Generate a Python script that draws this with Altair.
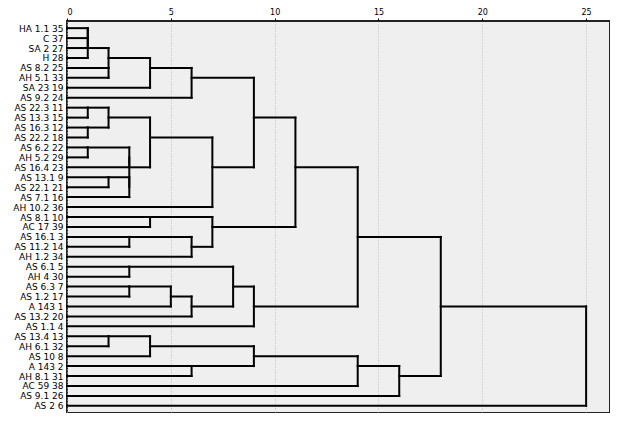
import json
import altair as alt
import pandas as pd

# Leaf labels, top to bottom
labels = ["HA 1.1 35", "C 37", "SA 2 27", "H 28", "AS 8.2 25", "AH 5.1 33", "SA 23 19",
          "AS 9.2 24", "AS 22.3 11", "AS 13.3 15", "AS 16.3 12", "AS 22.2 18", "AS 6.2 22",
          "AH 5.2 29", "AS 16.4 23", "AS 13.1 9", "AS 22.1 21", "AS 7.1 16", "AH 10.2 36",
          "AS 8.1 10", "AC 17 39", "AS 16.1 3", "AS 11.2 14", "AH 1.2 34", "AS 6.1 5",
          "AH 4 30", "AS 6.3 7", "AS 1.2 17", "A 143 1", "AS 13.2 20", "AS 1.1 4",
          "AS 13.4 13", "AH 6.1 32", "AS 10 8", "A 143 2", "AH 8.1 31", "AC 59 38",
          "AS 9.1 26", "AS 2 6"]

# Agglomeration schedule: Ln = leaf row n, Mk = k-th merge
merge_left = ["L1", "M1", "M2", "L5", "M3", "M5", "M6", "L9", "L11", "M8", "L13", "L16",
              "M11", "M12", "M13", "M10", "M16", "M7", "L20", "L22", "M20", "M19", "M18",
              "L25", "L27", "M25", "M26", "M24", "M28", "M23", "L32", "M31", "L35", "M32",
              "M34", "M35", "M30", "M37"]
merge_right = ["L2", "L3", "L4", "L6", "M4", "L7", "L8", "L10", "L12", "M9", "L14", "L17",
               "L15", "L18", "M14", "M15", "L19", "M17", "L21", "L23", "L24", "M21", "M22",
               "L26", "L28", "L29", "L30", "M27", "L31", "M29", "L33", "L34", "L36", "M33",
               "L37", "L38", "M36", "L39"]
merge_height = [1, 1, 1, 2, 2, 4, 6, 1, 1, 2, 1, 2, 3, 3, 3, 4, 7, 9, 4, 3, 6, 7, 11,
                3, 3, 5, 6, 8, 9, 14, 2, 4, 6, 9, 14, 16, 18, 25]

x_ticks = [0, 5, 10, 15, 20, 25]

# Build dendrogram segments
pos = {}
for i in range(len(labels)):
    pos["L%d" % (i + 1)] = (i + 1, 0)
segs = []
for k, (a, b, h) in enumerate(zip(merge_left, merge_right, merge_height)):
    ya, ha = pos[a]
    yb, hb = pos[b]
    for (yc, hc) in [(ya, ha), (yb, hb)]:
        if hc != h:
            segs.append({"x": hc, "x2": h, "y": yc, "y2": yc})
    segs.append({"x": h, "x2": h, "y": min(ya, yb), "y2": max(ya, yb)})
    pos["M%d" % (k + 1)] = ((ya + yb) // 2, h)
df = pd.DataFrame(segs)

label_expr = "[" + ",".join(json.dumps(l) for l in labels) + "][datum.value - 1]"

chart = alt.Chart(df).mark_rule(color="black", strokeWidth=2, strokeCap="square").encode(
    x=alt.X("x:Q",
            scale=alt.Scale(domain=[0, 26.15], nice=False, zero=False),
            axis=alt.Axis(orient="top", values=x_ticks, title=None, grid=True,
                          gridColor="#b8b8b8", gridDash=[1, 2], gridWidth=1,
                          domain=False, tickSize=3, tickColor="black",
                          labelFontSize=8, labelPadding=2, labelColor="black",
                          labelFont="DejaVu Sans")),
    x2="x2:Q",
    y=alt.Y("y:Q",
            scale=alt.Scale(domain=[0.28, 39.72], reverse=True, nice=False, zero=False),
            axis=alt.Axis(values=list(range(1, len(labels) + 1)), labelExpr=label_expr,
                          title=None, grid=False, domain=False, ticks=False,
                          labelFontSize=9, labelPadding=4, labelColor="black",
                          labelFont="DejaVu Sans")),
    y2="y2:Q",
).properties(
    width=543, height=392,
    autosize=alt.AutoSizeParams(type="none"),
    padding={"left": 59, "top": 13, "right": 0, "bottom": 0},
).configure_view(
    fill="#efefef", stroke="#222222", strokeWidth=2
)

chart.save("out.html", embed_options={"renderer": "svg", "actions": False})
